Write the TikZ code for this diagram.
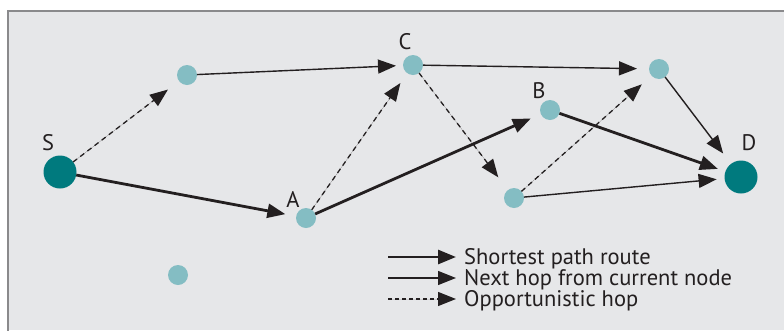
\documentclass[tikz,border=0pt]{standalone}
\usepackage{fontspec}
\setmainfont{PT Sans}
\usetikzlibrary{arrows.meta}
\definecolor{bg}{HTML}{E6E7E9}
\definecolor{framegray}{HTML}{8A8A8C}
\definecolor{light}{HTML}{84BDC3}
\definecolor{dark}{HTML}{007A7E}
\definecolor{ink}{HTML}{231F20}
\tikzset{
  small/.style={circle,fill=light,minimum size=20pt,inner sep=0pt,outer sep=0pt},
  big/.style={circle,fill=dark,minimum size=33pt,inner sep=0pt,outer sep=0pt},
  lbl/.style={font=\fontsize{22.5}{24}\selectfont,text=ink,inner sep=0pt},
  tip/.style={-{Triangle[length=18pt,width=14pt]}},
  shortest/.style={tip,draw=ink,fill=ink,line width=2.8pt},
  nexthop/.style={tip,draw=ink,fill=ink,line width=1.4pt},
  opport/.style={tip,draw=ink,fill=ink,line width=1.3pt,dash pattern=on 5pt off 4pt},
}
\begin{document}
\begin{tikzpicture}[x=1pt,y=-1pt]
\useasboundingbox (0,0) rectangle (784,330);
\fill[bg] (8,11) rectangle (784,330);
\draw[framegray,line width=1.5pt] (8,331) -- (8,11) -- (785,11);
% nodes
\node[big] (S) at (60,172) {};
\node[small] (N1) at (187,75) {};
\node[small] (A) at (306,218) {};
\node[small] (N0) at (178,275) {};
\node[small] (C) at (413,65) {};
\node[small] (N2) at (659,69) {};
\node[small] (B) at (550,110) {};
\node[small] (N3) at (514,198) {};
\node[big] (D) at (741,177) {};
% labels
\node[lbl] (lS) at (48,143) {S};
\node[lbl] (lA) at (293,199) {A};
\node[lbl] (lC) at (405,42) {C};
\node[lbl] (lB) at (539,91) {B};
\node[lbl] (lD) at (749,143) {D};
% edges
\draw[opport,shorten >=14pt] (S) -- (N1);
\draw[nexthop,shorten >=7pt] (N1) -- (C);
\draw[shortest,shorten >=11pt] (S) -- (A);
\draw[opport,shorten >=12pt] (A) -- (C);
\draw[shortest,shorten >=11pt] (A) -- (B);
\draw[nexthop,shorten >=12pt] (C) -- (N2);
\draw[opport,shorten >=16pt] (C) -- (N3);
\draw[shortest,shorten >=8pt] (B) -- (D);
\draw[nexthop,shorten >=8pt] (N3) -- (D);
\draw[opport,shorten >=13pt] (N3) -- (N2);
\draw[nexthop,shorten >=13pt] (N2) -- (D);
% legend
\coordinate (l1a) at (388,257); \coordinate (l1b) at (456,257);
\coordinate (l2a) at (388,278); \coordinate (l2b) at (456,278);
\coordinate (l3a) at (388,299); \coordinate (l3b) at (456,299);
\draw[shortest] (l1a) -- (l1b);
\draw[nexthop] (l2a) -- (l2b);
\draw[opport,dash pattern=on 4pt off 3pt] (l3a) -- (l3b);
\node[lbl,anchor=base west] (t1) at (464,264) {Shortest path route};
\node[lbl,anchor=base west] (t2) at (464,285) {Next hop from current node};
\node[lbl,anchor=base west] (t3) at (464,306) {Opportunistic hop};
\end{tikzpicture}
\end{document}
